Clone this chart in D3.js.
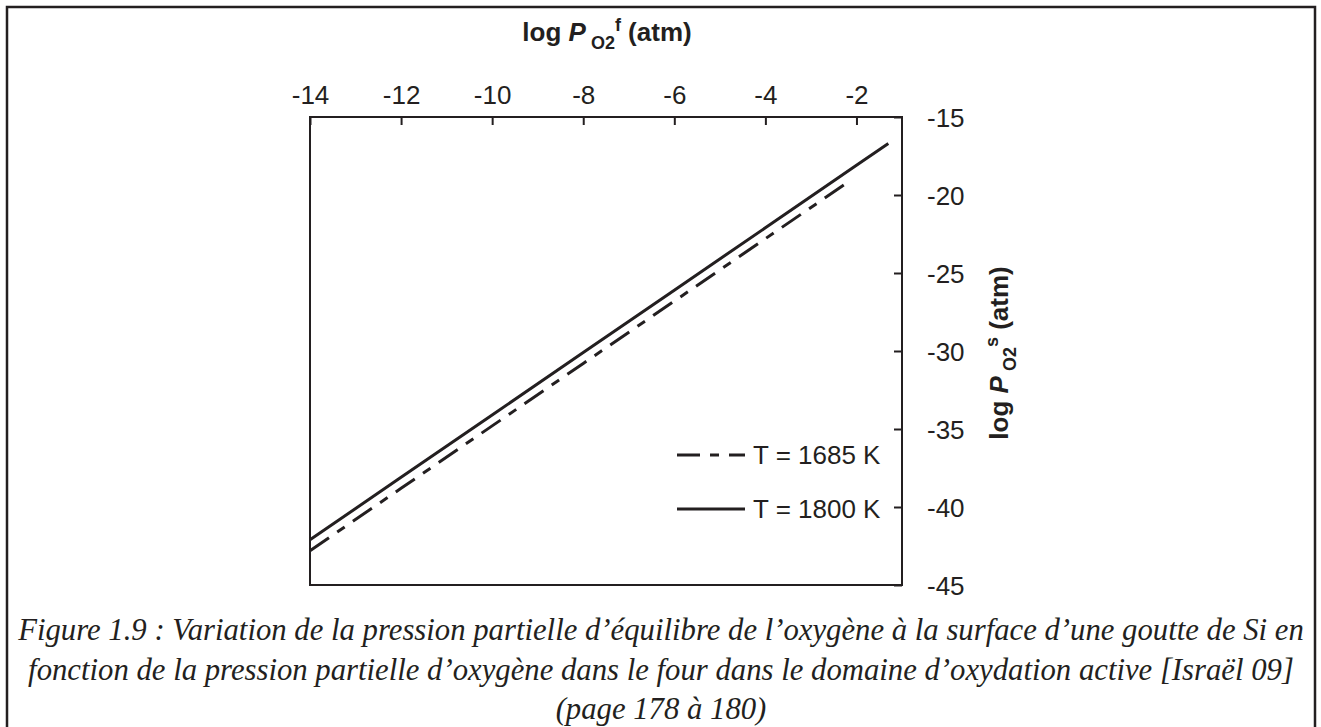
<!DOCTYPE html>
<html>
<head>
<meta charset="utf-8">
<script src="https://cdn.jsdelivr.net/npm/d3@7"></script>
<style>
  body { margin: 0; background: #fff; }
  svg { display: block; }
</style>
</head>
<body>
<svg id="chart" width="1321" height="727"></svg>
<script>
// Axis ticks
const xTicks = [-14, -12, -10, -8, -6, -4, -2];
const yTicks = [-15, -20, -25, -30, -35, -40, -45];

// Series: log P_O2 (furnace) vs log P_O2 (surface)
const seriesNames = ["T = 1685 K", "T = 1800 K"];
const x1685 = [-14, -12, -10, -8, -6, -4, -2.2];
const y1685 = [-42.8, -38.8, -34.8, -30.8, -26.8, -22.8, -19.2];
const x1800 = [-14, -12, -10, -8, -6, -4, -2, -1.3];
const y1800 = [-42.1, -38.1, -34.1, -30.1, -26.1, -22.1, -18.1, -16.7];

const captionLines = [
  "Figure 1.9 : Variation de la pression partielle d’équilibre de l’oxygène à la surface d’une goutte de Si en",
  "fonction de la pression partielle d’oxygène dans le four dans le domaine d’oxydation active [Israël 09]",
  "(page 178 à 180)"
];

const ink = "#231f20";
const sans = "'Liberation Sans', Arial, sans-serif";
const serif = "'Liberation Serif', 'Times New Roman', serif";

const svg = d3.select("#chart");

// Outer figure frame (open at the bottom edge of the page)
svg.append("rect")
  .attr("x", 7).attr("y", 7).attr("width", 1308).attr("height", 760)
  .attr("fill", "none").attr("stroke", ink).attr("stroke-width", 2.5);

const plot = { left: 310, right: 902, top: 117, bottom: 585 };

const x = d3.scaleLinear().domain([-14, -1]).range([plot.left, plot.right]);
const y = d3.scaleLinear().domain([-45, -15]).range([plot.bottom, plot.top]);

// Plain hyphen for negative tick values
const fmt = d => String(d);

// Top x axis, ticks pointing into the plot
const xAxis = svg.append("g")
  .attr("transform", `translate(0,${plot.top})`)
  .call(d3.axisTop(x).tickValues(xTicks).tickSizeInner(-8).tickSizeOuter(0).tickPadding(13)
    .tickFormat(fmt));
xAxis.select(".domain").remove();

// Right y axis, ticks pointing into the plot
const yAxis = svg.append("g")
  .attr("transform", `translate(${plot.right},0)`)
  .call(d3.axisRight(y).tickValues(yTicks).tickSizeInner(-8).tickSizeOuter(0).tickPadding(25)
    .tickFormat(fmt));
yAxis.select(".domain").remove();

[xAxis, yAxis].forEach(g => {
  g.selectAll("line").attr("stroke", ink).attr("stroke-width", 2);
  g.selectAll("text").attr("fill", ink).style("font-family", sans).style("font-size", "26px");
});
yAxis.selectAll("text").attr("dy", "0.35em");

// Plot box
svg.append("rect")
  .attr("x", plot.left).attr("y", plot.top)
  .attr("width", plot.right - plot.left).attr("height", plot.bottom - plot.top)
  .attr("fill", "none").attr("stroke", ink).attr("stroke-width", 2);

// Series lines
const line = d3.line().x(d => x(d[0])).y(d => y(d[1]));
const dash = "23,10,9,10";
const series = [
  { name: seriesNames[0], pts: d3.zip(x1685, y1685), dash: dash },
  { name: seriesNames[1], pts: d3.zip(x1800, y1800), dash: null }
];
series.forEach(s => {
  svg.append("path")
    .attr("d", line(s.pts))
    .attr("fill", "none").attr("stroke", ink).attr("stroke-width", 3)
    .attr("stroke-linecap", "butt")
    .attr("stroke-dasharray", s.dash);
});

// Legend
const legendY = [455, 509];
series.forEach((s, i) => {
  svg.append("line")
    .attr("x1", 677).attr("x2", 745).attr("y1", legendY[i]).attr("y2", legendY[i])
    .attr("stroke", ink).attr("stroke-width", 3)
    .attr("stroke-dasharray", s.dash);
  svg.append("text")
    .attr("x", 753).attr("y", legendY[i] + 9)
    .attr("fill", ink).style("font-family", sans).style("font-size", "26px")
    .text(s.name);
});

// Top axis title: log P_O2^f (atm)
const xt = svg.append("text")
  .attr("x", 607).attr("y", 41).attr("text-anchor", "middle")
  .attr("fill", ink).style("font-family", sans).style("font-weight", "bold").style("font-size", "26px");
xt.append("tspan").text("log ");
xt.append("tspan").style("font-style", "italic").text("P");
xt.append("tspan").style("font-size", "18px").attr("dy", 8).text(" O2");
xt.append("tspan").style("font-size", "18px").attr("dy", -18).text("f");
xt.append("tspan").attr("dy", 10).text(" (atm)");

// Right axis title: log P_O2^s (atm)
const yt = svg.append("text")
  .attr("transform", "translate(1008,353) rotate(-90)")
  .attr("text-anchor", "middle")
  .attr("fill", ink).style("font-family", sans).style("font-weight", "bold").style("font-size", "26px");
yt.append("tspan").text("log ");
yt.append("tspan").style("font-style", "italic").text("P");
yt.append("tspan").style("font-size", "18px").attr("dy", 8).text(" O2");
yt.append("tspan").style("font-size", "18px").attr("dy", -18).text("s");
yt.append("tspan").attr("dy", 10).text(" (atm)");

// Figure caption, sized so the first line spans the frame
const capBase = [640, 680, 719];
const cap = svg.append("g").attr("fill", ink)
  .style("font-family", serif).style("font-style", "italic");
const capText = cap.selectAll("text").data(captionLines).join("text")
  .attr("x", 661).attr("y", (d, i) => capBase[i])
  .attr("text-anchor", "middle")
  .style("font-size", "26px")
  .text(d => d);
const w0 = capText.node().getComputedTextLength();
const fs = 26 * 1286 / w0;
capText.style("font-size", fs.toFixed(2) + "px");
</script>
</body>
</html>
